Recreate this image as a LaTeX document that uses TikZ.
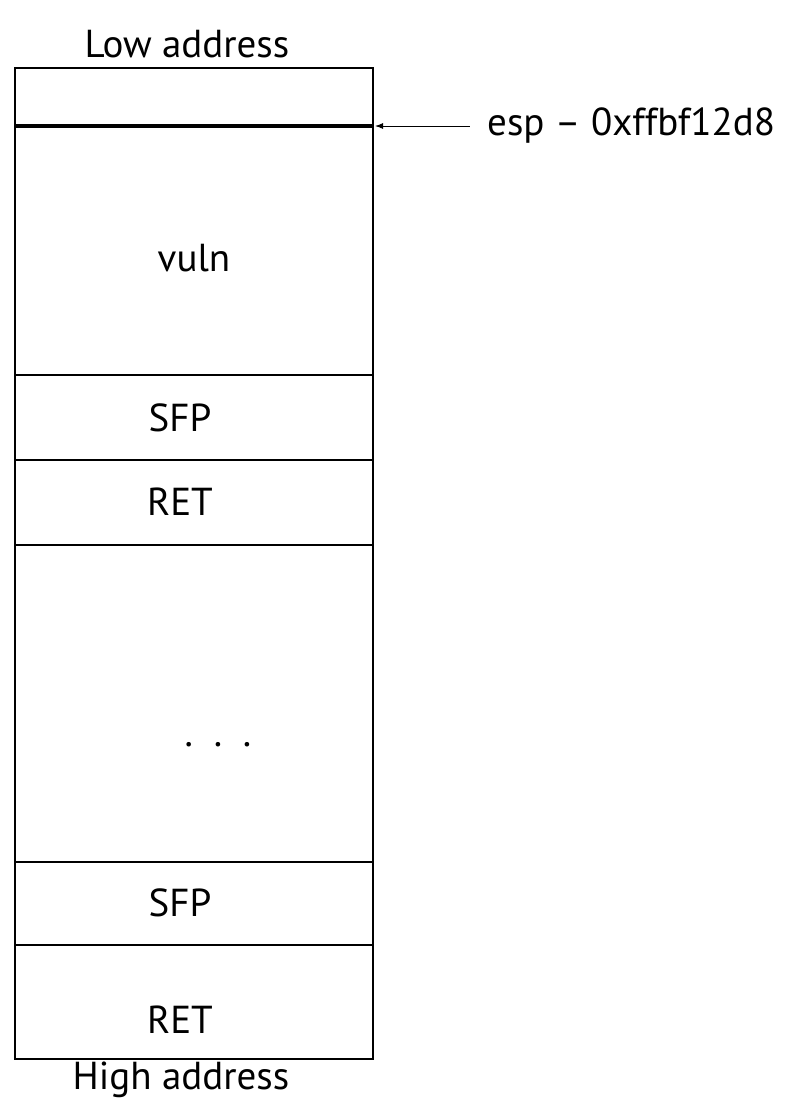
\documentclass[tikz,border=0pt]{standalone}
\usepackage{fontspec}
\setmainfont{PT Sans}
\usetikzlibrary{arrows.meta, positioning}

\begin{document}
\begin{tikzpicture}[x=1pt, y=-1pt, >=Latex,
    frame/.style={draw, line width=2.4pt, minimum width=358pt, inner sep=0pt, outer sep=0pt},
    txt/.style={font=\fontsize{39}{44}\selectfont, inner sep=0pt}]
  \useasboundingbox (0,0) rectangle (794,1106);
  % stack frames, top to bottom
  \node[frame, minimum height=58pt]  (top)  at (194,97)     {};
  \node[frame, minimum height=249pt] (vuln) at (194,250.5)  {};
  \node[frame, minimum height=85pt]  (sfpa) at (194,417.5)  {};
  \node[frame, minimum height=85pt]  (reta) at (194,502.5)  {};
  \node[frame, minimum height=317pt] (rest) at (194,703.5)  {};
  \node[frame, minimum height=83pt]  (sfpb) at (194,903.5)  {};
  \node[frame, minimum height=114pt] (retb) at (194,1002)   {};
  % esp marker
  \draw[line width=3.4pt] (top.south west) -- (top.south east);
  % labels
  \node[txt] (low)  at (187,44)   {Low address};
  \node[txt] (high) at (181,1080) {High address};
  \node[txt] (vulnlbl) at (194,258)  {vuln};
  \node[txt] (sfpalbl) at (180,418)  {SFP};
  \node[txt] (retalbl) at (180,502)  {RET};
  \node[txt] (restlbl) at (218,745)  {.\ \ .\ \ .};
  \node[txt] (sfpblbl) at (180,903)  {SFP};
  \node[txt] (retblbl) at (180,1020) {RET};
  \node[txt, anchor=west] (esp) at (487,126) {esp -- 0xffbf12d8};
  \coordinate (esptip) at (375,126);
  \draw[{Latex[length=8pt,width=6pt]}-, line width=1pt, shorten >=17pt] (esptip) -- (esp.west);
\end{tikzpicture}
\end{document}
